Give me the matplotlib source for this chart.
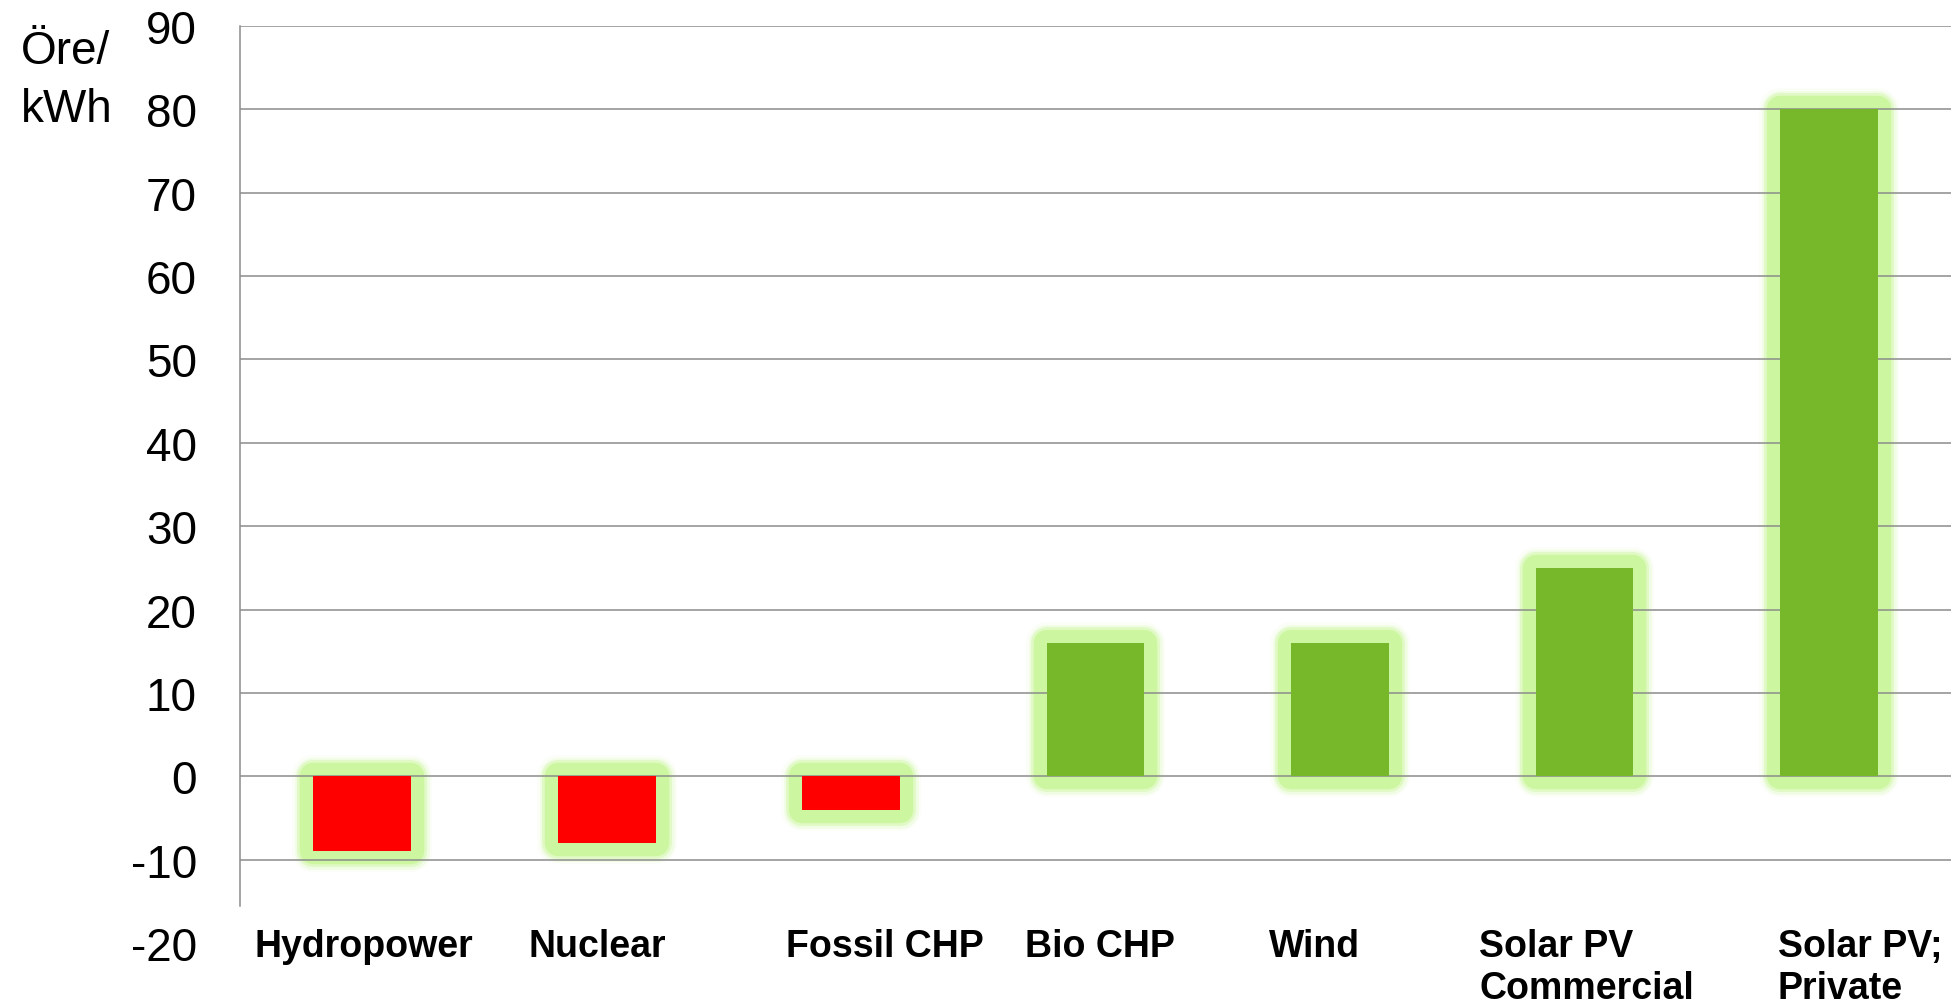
"""Subsidy per kWh by power source (Öre/kWh)."""
import matplotlib

matplotlib.use("Agg")
import matplotlib.pyplot as plt
import matplotlib.patheffects as pe
from matplotlib.transforms import ScaledTranslation

plt.rcParams["font.family"] = ["Liberation Sans", "DejaVu Sans"]

CATEGORIES = [
    "Hydropower",
    "Nuclear",
    "Fossil CHP",
    "Bio CHP",
    "Wind",
    "Solar PV\nCommercial",
    "Solar PV;\nPrivate",
]
VALUES = [-9, -8, -4, 16, 16, 25, 80]
Y_TICKS = [-20, -10, 0, 10, 20, 30, 40, 50, 60, 70, 80, 90]

# hand-placed label nudges in the original, in pixels
LABEL_SHIFT_PX = [2, -9, 34, 4, -26, 2, 31]

RED = "#ff0000"
GREEN = "#77b82a"
GLOW = "#ccf7a0"
GRID = "#8c8c8c"


def main() -> None:
    fig = plt.figure(figsize=(19.59, 10.04), dpi=100)
    ax = fig.add_axes([0.1225, 0.0598, 0.8735, 0.9133])

    x = list(range(len(CATEGORIES)))
    colors = [RED if v < 0 else GREEN for v in VALUES]

    # soft glow behind each bar
    glow = ax.bar(x, VALUES, width=0.4, color=GLOW, linewidth=0, zorder=1)
    for patch in glow:
        patch.set_path_effects([
            pe.Stroke(linewidth=30, foreground=GLOW, alpha=0.08, joinstyle="round"),
            pe.Stroke(linewidth=26.5, foreground=GLOW, alpha=0.2, joinstyle="round"),
            pe.Stroke(linewidth=23, foreground=GLOW, alpha=0.45, joinstyle="round"),
            pe.Stroke(linewidth=19, foreground=GLOW, alpha=1.0, joinstyle="round"),
        ])
    ax.bar(x, VALUES, width=0.4, color=colors, linewidth=0, zorder=2)

    ax.set_xlim(-0.5, len(CATEGORIES) - 0.5)
    ax.set_ylim(-20, 90)
    ax.set_yticks(Y_TICKS)
    ax.set_yticklabels([str(t) for t in Y_TICKS], fontsize=33)
    ax.tick_params(axis="y", length=0, pad=31)

    ax.set_xticks(x)
    ax.set_xticklabels(CATEGORIES, fontsize=27, fontweight="bold",
                       multialignment="left")
    ax.tick_params(axis="x", length=0, pad=-10.5)
    for lbl, dx in zip(ax.get_xticklabels(), LABEL_SHIFT_PX):
        lbl.set_transform(lbl.get_transform()
                          + ScaledTranslation(dx / 100, 0, fig.dpi_scale_trans))

    ax.set_axisbelow("line")
    ax.yaxis.grid(True, color=GRID, linewidth=1.1)
    ax.yaxis.get_gridlines()[0].set_visible(False)

    for side in ["top", "right", "bottom"]:
        ax.spines[side].set_visible(False)
    ax.spines["left"].set_color(GRID)
    ax.spines["left"].set_linewidth(1.1)
    ax.spines["left"].set_bounds(-15.6, 90)

    fig.text(0.0107, 0.97, "Öre/\nkWh", fontsize=33, ha="left", va="top",
             linespacing=1.4)

    fig.savefig("out.png", dpi=100)
    plt.close(fig)


if __name__ == "__main__":
    main()
